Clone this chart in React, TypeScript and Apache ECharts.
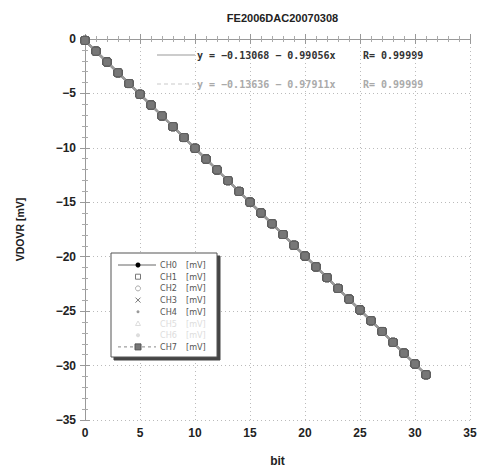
import React, { useEffect, useRef } from "react";
import * as echarts from "echarts";

const titleText = "FE2006DAC20070308";
const bits = [0, 1, 2, 3, 4, 5, 6, 7, 8, 9, 10, 11, 12, 13, 14, 15, 16, 17, 18, 19, 20, 21, 22, 23, 24, 25, 26, 27, 28, 29, 30, 31];
const vdovr = [-0.13, -1.12, -2.11, -3.1, -4.09, -5.08, -6.07, -7.06, -8.05, -9.05, -10.04, -11.03, -12.02, -13.01, -14.0, -14.99, -15.98, -16.97, -17.96, -18.95, -19.94, -20.93, -21.92, -22.91, -23.9, -24.89, -25.88, -26.87, -27.87, -28.86, -29.85, -30.84];
const channels = ["CH0", "CH1", "CH2", "CH3", "CH4", "CH5", "CH6", "CH7"];
const fitLines = [
  { eq: "y = \u22120.13068 \u2212 0.99056x", r: "R= 0.99999" },
  { eq: "y = \u22120.13636 \u2212 0.97911x", r: "R= 0.99999" },
];

const GRID = { left: 85, right: 11, top: 39, bottom: 49 };

export default function App() {
  const ref = useRef<HTMLDivElement>(null);
  useEffect(() => {
    if (!ref.current) return;
    document.body.style.margin = "0";
    document.body.style.overflow = "hidden";
    const chart = echarts.init(ref.current, null, { renderer: "svg" });
    const pts = bits.map((b, i) => [b, vdovr[i]]);
    const axisCommon = {
      min: 0,
      max: 35,
      interval: 5,
      axisLine: { show: true, lineStyle: { color: "#999", width: 1 } },
      axisTick: { show: true, inside: true, length: 5, lineStyle: { color: "#999" } },
      minorTick: { show: true, splitNumber: 5, length: 3, lineStyle: { color: "#aaa" } },
    };
    const labelStyle = { color: "#222", fontSize: 12, fontWeight: "bold", fontFamily: "Liberation Sans, Arial, sans-serif" };

    const legendRows: any[] = [];
    const rowY0 = 265;
    const dy = 11.7;
    const iconX = 138;
    channels.forEach((ch, i) => {
      const y = rowY0 + i * dy;
      const faint = i === 5 || i === 6;
      const txtColor = faint ? "#ddd" : "#555";
      const iconColor = faint ? "#ddd" : "#777";
      if (i === 0) {
        legendRows.push({ type: "line", shape: { x1: 118, y1: y, x2: 156, y2: y }, style: { stroke: "#666", lineWidth: 1 } });
        legendRows.push({ type: "circle", shape: { cx: iconX, cy: y, r: 2.5 }, style: { fill: "#000" } });
      } else if (i === 1) {
        legendRows.push({ type: "rect", shape: { x: iconX - 2.5, y: y - 2.5, width: 5, height: 5 }, style: { fill: "#fff", stroke: iconColor, lineWidth: 1 } });
      } else if (i === 2) {
        legendRows.push({ type: "circle", shape: { cx: iconX, cy: y, r: 2.5 }, style: { fill: "#fff", stroke: "#aaa", lineWidth: 1 } });
      } else if (i === 3) {
        legendRows.push({ type: "line", shape: { x1: iconX - 2.5, y1: y - 2.5, x2: iconX + 2.5, y2: y + 2.5 }, style: { stroke: iconColor, lineWidth: 1 } });
        legendRows.push({ type: "line", shape: { x1: iconX - 2.5, y1: y + 2.5, x2: iconX + 2.5, y2: y - 2.5 }, style: { stroke: iconColor, lineWidth: 1 } });
      } else if (i === 4) {
        legendRows.push({ type: "circle", shape: { cx: iconX, cy: y, r: 1.5 }, style: { fill: "#999" } });
      } else if (i === 5) {
        legendRows.push({ type: "polygon", shape: { points: [[iconX, y - 2.5], [iconX + 2.5, y + 2], [iconX - 2.5, y + 2]] }, style: { fill: "none", stroke: iconColor, lineWidth: 1 } });
      } else if (i === 6) {
        legendRows.push({ type: "circle", shape: { cx: iconX, cy: y, r: 2 }, style: { fill: "#ddd" } });
      } else {
        legendRows.push({ type: "line", shape: { x1: 118, y1: y, x2: 156, y2: y }, style: { stroke: "#888", lineWidth: 1, lineDash: [3, 3] } });
        legendRows.push({ type: "rect", shape: { x: iconX - 3, y: y - 3, width: 6, height: 6 }, style: { fill: "#777", stroke: "#555", lineWidth: 1 } });
      }
      legendRows.push({ type: "text", x: 160, y, style: { text: ch, fill: txtColor, font: "9px 'DejaVu Sans Condensed', 'DejaVu Sans', sans-serif", verticalAlign: "middle" } });
      legendRows.push({ type: "text", x: 186, y, style: { text: "[mV]", fill: txtColor, font: "9px 'DejaVu Sans Condensed', 'DejaVu Sans', sans-serif", verticalAlign: "middle" } });
    });

    const fitGraphics: any[] = [];
    fitLines.forEach((f, i) => {
      const y = 55 + i * 29;
      const color = i === 0 ? "#333" : "#aaa";
      fitGraphics.push({ type: "line", shape: { x1: 157, y1: y, x2: 195, y2: y }, style: { stroke: i === 0 ? "#ccc" : "#e4e4e4", lineWidth: 2, lineDash: i === 0 ? undefined : [4, 3] } });
      fitGraphics.push({ type: "text", x: 197, y, style: { text: f.eq, fill: color, font: "bold 10px 'DejaVu Sans Mono', monospace", verticalAlign: "middle" } });
      fitGraphics.push({ type: "text", x: 363, y, style: { text: f.r, fill: color, font: "bold 10px 'DejaVu Sans Mono', monospace", verticalAlign: "middle" } });
    });

    const series: any[] = channels.map((ch, i) => ({
      name: ch,
      type: "line",
      xAxisIndex: 0,
      yAxisIndex: 0,
      data: pts,
      symbol: "roundRect",
      symbolSize: 8,
      z: 2 + i,
      lineStyle: { color: "#999", width: 2 },
      itemStyle: { color: "#777", borderColor: "#5e5e5e", borderWidth: 1 },
    }));

    chart.setOption({
      animation: false,
      backgroundColor: "#fff",
      title: {
        text: titleText,
        left: (GRID.left + 481 - GRID.right) / 2,
        textAlign: "center",
        top: 7,
        textStyle: { fontSize: 11, fontWeight: "bold", color: "#222", fontFamily: "Liberation Sans, Arial, sans-serif" },
      },
      grid: GRID,
      xAxis: [
        {
          ...axisCommon,
          type: "value",
          position: "bottom",
          name: "bit",
          nameLocation: "middle",
          nameGap: 35,
          nameTextStyle: { ...labelStyle, fontSize: 12 },
          axisLabel: { ...labelStyle, margin: 7 },
          splitLine: { show: true, lineStyle: { color: "#bbb", type: [1, 3] } },
        },
        {
          ...axisCommon,
          type: "value",
          position: "top",
          axisLabel: { show: false },
          splitLine: { show: false },
        },
      ],
      yAxis: [
        {
          type: "value",
          min: -35,
          max: 0,
          interval: 5,
          position: "left",
          axisLine: { show: true, lineStyle: { color: "#999" } },
          axisTick: { show: true, inside: true, length: 5, lineStyle: { color: "#999" } },
          minorTick: { show: true, splitNumber: 5, length: 3, lineStyle: { color: "#aaa" } },
          name: "VDOVR [mV]",
          nameLocation: "middle",
          nameGap: 60,
          nameTextStyle: { ...labelStyle, fontSize: 10.5 },
          axisLabel: { ...labelStyle, margin: 9, formatter: (v: number) => (v < 0 ? "\u2212" + Math.abs(v) : String(v)) },
          splitLine: { show: true, lineStyle: { color: "#bbb", type: [1, 3] } },
        },
        {
          type: "value",
          min: -35,
          max: 0,
          interval: 5,
          position: "right",
          axisLine: { show: true, lineStyle: { color: "#999" } },
          axisTick: { show: true, inside: true, length: 5, lineStyle: { color: "#999" } },
          minorTick: { show: true, splitNumber: 5, length: 3, lineStyle: { color: "#aaa" } },
          axisLabel: { show: false },
          splitLine: { show: false },
        },
      ],
      series,
      graphic: [
        ...fitGraphics,
        {
          type: "rect",
          shape: { x: 111, y: 253, width: 106, height: 104 },
          style: { fill: "#fff", stroke: "#555", lineWidth: 1, shadowColor: "#444", shadowOffsetX: 3, shadowOffsetY: 3, shadowBlur: 1 },
          z: 100,
        },
        ...legendRows.map((g) => ({ ...g, z: 101 })),
      ],
    });
    return () => chart.dispose();
  }, []);
  return <div ref={ref} style={{ width: 481, height: 472 }} />;
}
